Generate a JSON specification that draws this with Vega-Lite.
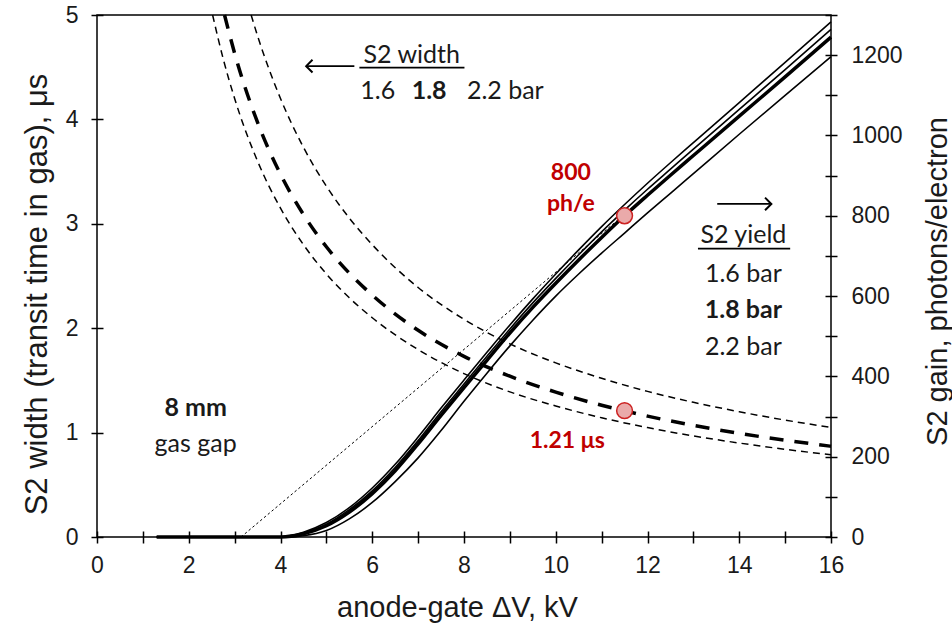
{
  "$schema": "https://vega.github.io/schema/vega-lite/v6.json",
  "width": 734,
  "height": 522,
  "autosize": {"type": "none"},
  "padding": {"left": 97, "top": 15, "right": 121, "bottom": 91},
  "background": "white",
  "config": {
    "view": {"stroke": "black", "strokeWidth": 1.5},
    "axis": {
      "grid": false,
      "domain": false,
      "offset": -6,
      "tickColor": "black",
      "tickWidth": 1.5,
      "tickSize": 12,
      "labelFont": "Liberation Sans",
      "labelFontSize": 23,
      "labelColor": "#1a1a1a",
      "titleFont": "Liberation Sans",
      "titleFontSize": 29,
      "titleFontWeight": "normal",
      "titleColor": "#1a1a1a"
    }
  },
  "datasets": {
    "width": [
      {"series": "1.6 bar", "x": 2.52, "y": 5.0},
      {"series": "1.6 bar", "x": 2.75, "y": 4.582},
      {"series": "1.6 bar", "x": 3, "y": 4.2},
      {"series": "1.6 bar", "x": 3.5, "y": 3.6},
      {"series": "1.6 bar", "x": 4, "y": 3.15},
      {"series": "1.6 bar", "x": 4.5, "y": 2.8},
      {"series": "1.6 bar", "x": 5, "y": 2.52},
      {"series": "1.6 bar", "x": 5.5, "y": 2.291},
      {"series": "1.6 bar", "x": 6, "y": 2.1},
      {"series": "1.6 bar", "x": 7, "y": 1.795},
      {"series": "1.6 bar", "x": 8, "y": 1.565},
      {"series": "1.6 bar", "x": 9, "y": 1.39},
      {"series": "1.6 bar", "x": 10, "y": 1.255},
      {"series": "1.6 bar", "x": 11, "y": 1.142},
      {"series": "1.6 bar", "x": 12, "y": 1.048},
      {"series": "1.6 bar", "x": 13, "y": 0.968},
      {"series": "1.6 bar", "x": 14, "y": 0.9},
      {"series": "1.6 bar", "x": 15, "y": 0.84},
      {"series": "1.6 bar", "x": 16, "y": 0.787},
      {"series": "1.8 bar", "x": 2.78, "y": 5.0},
      {"series": "1.8 bar", "x": 3, "y": 4.633},
      {"series": "1.8 bar", "x": 3.5, "y": 3.971},
      {"series": "1.8 bar", "x": 4, "y": 3.475},
      {"series": "1.8 bar", "x": 4.5, "y": 3.089},
      {"series": "1.8 bar", "x": 5, "y": 2.78},
      {"series": "1.8 bar", "x": 5.5, "y": 2.527},
      {"series": "1.8 bar", "x": 6, "y": 2.317},
      {"series": "1.8 bar", "x": 7, "y": 1.98},
      {"series": "1.8 bar", "x": 8, "y": 1.73},
      {"series": "1.8 bar", "x": 9, "y": 1.54},
      {"series": "1.8 bar", "x": 10, "y": 1.388},
      {"series": "1.8 bar", "x": 11, "y": 1.262},
      {"series": "1.8 bar", "x": 11.5, "y": 1.209},
      {"series": "1.8 bar", "x": 12, "y": 1.158},
      {"series": "1.8 bar", "x": 13, "y": 1.069},
      {"series": "1.8 bar", "x": 14, "y": 0.993},
      {"series": "1.8 bar", "x": 15, "y": 0.927},
      {"series": "1.8 bar", "x": 16, "y": 0.869},
      {"series": "2.2 bar", "x": 3.36, "y": 5.0},
      {"series": "2.2 bar", "x": 3.5, "y": 4.8},
      {"series": "2.2 bar", "x": 4, "y": 4.2},
      {"series": "2.2 bar", "x": 4.5, "y": 3.733},
      {"series": "2.2 bar", "x": 5, "y": 3.36},
      {"series": "2.2 bar", "x": 5.5, "y": 3.055},
      {"series": "2.2 bar", "x": 6, "y": 2.8},
      {"series": "2.2 bar", "x": 7, "y": 2.39},
      {"series": "2.2 bar", "x": 8, "y": 2.085},
      {"series": "2.2 bar", "x": 9, "y": 1.85},
      {"series": "2.2 bar", "x": 10, "y": 1.668},
      {"series": "2.2 bar", "x": 11, "y": 1.52},
      {"series": "2.2 bar", "x": 12, "y": 1.395},
      {"series": "2.2 bar", "x": 13, "y": 1.29},
      {"series": "2.2 bar", "x": 14, "y": 1.2},
      {"series": "2.2 bar", "x": 15, "y": 1.12},
      {"series": "2.2 bar", "x": 16, "y": 1.05}
    ],
    "gain": [
      {"series": "1.6 bar", "x": 1.3, "y": 0},
      {"series": "1.6 bar", "x": 3.95, "y": 0},
      {"series": "1.6 bar", "x": 4.5, "y": 12},
      {"series": "1.6 bar", "x": 5, "y": 36},
      {"series": "1.6 bar", "x": 5.5, "y": 73},
      {"series": "1.6 bar", "x": 6, "y": 122},
      {"series": "1.6 bar", "x": 6.5, "y": 181},
      {"series": "1.6 bar", "x": 7, "y": 249},
      {"series": "1.6 bar", "x": 7.5, "y": 321},
      {"series": "1.6 bar", "x": 8, "y": 391},
      {"series": "1.6 bar", "x": 8.5, "y": 460},
      {"series": "1.6 bar", "x": 9, "y": 528},
      {"series": "1.6 bar", "x": 9.5, "y": 593},
      {"series": "1.6 bar", "x": 10, "y": 655},
      {"series": "1.6 bar", "x": 10.5, "y": 715},
      {"series": "1.6 bar", "x": 11, "y": 773},
      {"series": "1.6 bar", "x": 11.5, "y": 828},
      {"series": "1.6 bar", "x": 12, "y": 881},
      {"series": "1.6 bar", "x": 12.5, "y": 932},
      {"series": "1.6 bar", "x": 13, "y": 982},
      {"series": "1.6 bar", "x": 14, "y": 1082},
      {"series": "1.6 bar", "x": 15, "y": 1182},
      {"series": "1.6 bar", "x": 16, "y": 1283},
      {"series": "1.8 bar b", "x": 1.3, "y": 0},
      {"series": "1.8 bar b", "x": 4, "y": 0},
      {"series": "1.8 bar b", "x": 4.5, "y": 10},
      {"series": "1.8 bar b", "x": 5, "y": 32},
      {"series": "1.8 bar b", "x": 5.5, "y": 68},
      {"series": "1.8 bar b", "x": 6, "y": 115},
      {"series": "1.8 bar b", "x": 6.5, "y": 173},
      {"series": "1.8 bar b", "x": 7, "y": 240},
      {"series": "1.8 bar b", "x": 7.5, "y": 312},
      {"series": "1.8 bar b", "x": 8, "y": 381},
      {"series": "1.8 bar b", "x": 8.5, "y": 450},
      {"series": "1.8 bar b", "x": 9, "y": 518},
      {"series": "1.8 bar b", "x": 9.5, "y": 583},
      {"series": "1.8 bar b", "x": 10, "y": 644},
      {"series": "1.8 bar b", "x": 10.5, "y": 703},
      {"series": "1.8 bar b", "x": 11, "y": 760},
      {"series": "1.8 bar b", "x": 11.5, "y": 814},
      {"series": "1.8 bar b", "x": 12, "y": 866},
      {"series": "1.8 bar b", "x": 12.5, "y": 916},
      {"series": "1.8 bar b", "x": 13, "y": 966},
      {"series": "1.8 bar b", "x": 14, "y": 1065},
      {"series": "1.8 bar b", "x": 15, "y": 1164},
      {"series": "1.8 bar b", "x": 16, "y": 1264},
      {"series": "1.8 bar", "x": 1.3, "y": 0},
      {"series": "1.8 bar", "x": 4, "y": 0},
      {"series": "1.8 bar", "x": 4.5, "y": 8},
      {"series": "1.8 bar", "x": 5, "y": 28},
      {"series": "1.8 bar", "x": 5.5, "y": 62},
      {"series": "1.8 bar", "x": 6, "y": 108},
      {"series": "1.8 bar", "x": 6.5, "y": 165},
      {"series": "1.8 bar", "x": 7, "y": 232},
      {"series": "1.8 bar", "x": 7.5, "y": 303},
      {"series": "1.8 bar", "x": 8, "y": 372},
      {"series": "1.8 bar", "x": 8.5, "y": 440},
      {"series": "1.8 bar", "x": 9, "y": 508},
      {"series": "1.8 bar", "x": 9.5, "y": 572},
      {"series": "1.8 bar", "x": 10, "y": 632},
      {"series": "1.8 bar", "x": 10.5, "y": 690},
      {"series": "1.8 bar", "x": 11, "y": 746},
      {"series": "1.8 bar", "x": 11.5, "y": 800},
      {"series": "1.8 bar", "x": 12, "y": 851},
      {"series": "1.8 bar", "x": 12.5, "y": 901},
      {"series": "1.8 bar", "x": 13, "y": 950},
      {"series": "1.8 bar", "x": 14, "y": 1048},
      {"series": "1.8 bar", "x": 15, "y": 1146},
      {"series": "1.8 bar", "x": 16, "y": 1245},
      {"series": "2.2 bar", "x": 1.3, "y": 0},
      {"series": "2.2 bar", "x": 4.2, "y": 0},
      {"series": "2.2 bar", "x": 4.5, "y": 3},
      {"series": "2.2 bar", "x": 5, "y": 16},
      {"series": "2.2 bar", "x": 5.5, "y": 45},
      {"series": "2.2 bar", "x": 6, "y": 86},
      {"series": "2.2 bar", "x": 6.5, "y": 138},
      {"series": "2.2 bar", "x": 7, "y": 197},
      {"series": "2.2 bar", "x": 7.5, "y": 265},
      {"series": "2.2 bar", "x": 8, "y": 338},
      {"series": "2.2 bar", "x": 8.5, "y": 408},
      {"series": "2.2 bar", "x": 9, "y": 476},
      {"series": "2.2 bar", "x": 9.5, "y": 540},
      {"series": "2.2 bar", "x": 10, "y": 600},
      {"series": "2.2 bar", "x": 10.5, "y": 655},
      {"series": "2.2 bar", "x": 11, "y": 707},
      {"series": "2.2 bar", "x": 11.5, "y": 757},
      {"series": "2.2 bar", "x": 12, "y": 807},
      {"series": "2.2 bar", "x": 12.5, "y": 856},
      {"series": "2.2 bar", "x": 13, "y": 905},
      {"series": "2.2 bar", "x": 14, "y": 1003},
      {"series": "2.2 bar", "x": 15, "y": 1100},
      {"series": "2.2 bar", "x": 16, "y": 1196}
    ],
    "tangent": [
      {"x": 3.14, "y": 0},
      {"x": 12.45, "y": 895}
    ],
    "width_marker": [{"x": 11.5, "y": 1.21}],
    "gain_marker": [{"x": 11.5, "y": 800}],
    "notes": [
      {"text": "S2 width", "x": 6.86, "y": 4.543, "role": "plain"},
      {"text": "1.6", "x": 6.12, "y": 4.193, "role": "plain"},
      {"text": "1.8", "x": 7.24, "y": 4.193, "role": "bold"},
      {"text": "2.2 bar", "x": 8.9, "y": 4.193, "role": "plain"},
      {"text": "S2 yield", "x": 14.09, "y": 2.816, "role": "plain"},
      {"text": "1.6 bar", "x": 14.09, "y": 2.445, "role": "plain"},
      {"text": "1.8 bar", "x": 14.09, "y": 2.095, "role": "bold"},
      {"text": "2.2 bar", "x": 14.09, "y": 1.743, "role": "plain"},
      {"text": "800", "x": 10.33, "y": 3.42, "role": "red"},
      {"text": "ph/e", "x": 10.33, "y": 3.125, "role": "red"},
      {"text": "1.21 μs", "x": 10.25, "y": 0.85, "role": "red"},
      {"text": "8 mm", "x": 2.15, "y": 1.159, "role": "bold"},
      {"text": "gas gap", "x": 2.15, "y": 0.817, "role": "plain"}
    ],
    "segments": [
      {"x": 5.72, "x2": 8.01, "y": 4.495},
      {"x": 13.1, "x2": 15.11, "y": 2.763},
      {"x": 4.56, "x2": 5.61, "y": 4.51},
      {"x": 13.52, "x2": 14.7, "y": 3.19}
    ],
    "arrowheads": [
      {"x": 4.56, "y": 4.51, "dir": "left"},
      {"x": 14.7, "y": 3.19, "dir": "right"}
    ]
  },
  "encoding": {
    "x": {
      "field": "x",
      "type": "quantitative",
      "scale": {"domain": [0, 16], "nice": false, "zero": false},
      "axis": {
        "title": "anode-gate ΔV, kV",
        "values": [0, 0.5, 1, 1.5, 2, 2.5, 3, 3.5, 4, 4.5, 5, 5.5, 6, 6.5, 7, 7.5, 8, 8.5, 9, 9.5, 10, 10.5, 11, 11.5, 12, 12.5, 13, 13.5, 14, 14.5, 15, 15.5, 16],
        "format": "d",
        "labelExpr": "datum.value % 2 === 0 ? datum.label : ''",
        "labelFlush": false,
        "labelOverlap": false,
        "labelPadding": 11,
        "titleX": 360,
        "titleY": 85,
        "titleBaseline": "alphabetic"
      }
    }
  },
  "layer": [
    {
      "encoding": {
        "y": {
          "field": "y",
          "type": "quantitative",
          "scale": {"domain": [0, 5], "nice": false},
          "axis": {
            "orient": "left",
            "title": "S2 width (transit time in gas), μs",
            "values": [0, 0.25, 0.5, 0.75, 1, 1.25, 1.5, 1.75, 2, 2.25, 2.5, 2.75, 3, 3.25, 3.5, 3.75, 4, 4.25, 4.5, 4.75, 5],
            "format": "d",
            "labelExpr": "datum.value % 1 === 0 ? datum.label : ''",
            "labelFlush": false,
            "labelOverlap": false,
            "labelPadding": 13,
            "titleFontSize": 31,
            "titleX": -66,
            "titleY": 279,
            "titleAngle": -90,
            "titleBaseline": "middle"
          }
        }
      },
      "layer": [
        {
          "data": {"name": "width"},
          "transform": [{"filter": "datum.series !== '1.8 bar'"}],
          "mark": {"type": "line", "color": "black", "strokeWidth": 1.5, "strokeDash": [7, 5], "interpolate": "monotone"},
          "encoding": {"detail": {"field": "series"}}
        },
        {
          "data": {"name": "width"},
          "transform": [{"filter": "datum.series === '1.8 bar'"}],
          "mark": {"type": "line", "color": "black", "strokeWidth": 3.5, "strokeDash": [14, 11], "interpolate": "monotone"},
          "encoding": {}
        },
        {
          "data": {"name": "segments"},
          "mark": {"type": "rule", "color": "black", "strokeWidth": 1.8},
          "encoding": {"x2": {"field": "x2"}}
        },
        {
          "data": {"name": "arrowheads"},
          "mark": {"type": "point", "filled": false, "color": "black", "strokeWidth": 2, "size": 160, "opacity": 1},
          "encoding": {
            "shape": {
              "field": "dir",
              "type": "nominal",
              "scale": {"domain": ["left", "right"], "range": ["M1,-1L0,0L1,1", "M-1,-1L0,0L-1,1"]},
              "legend": null
            }
          }
        },
        {
          "data": {"name": "notes"},
          "transform": [{"filter": "datum.role === 'plain'"}],
          "mark": {"type": "text", "font": "Lato", "fontSize": 25, "color": "#1a1a1a", "align": "center", "baseline": "alphabetic"},
          "encoding": {"text": {"field": "text"}}
        },
        {
          "data": {"name": "notes"},
          "transform": [{"filter": "datum.role === 'bold'"}],
          "mark": {"type": "text", "font": "Lato", "fontSize": 25, "fontWeight": "bold", "color": "#1a1a1a", "align": "center", "baseline": "alphabetic"},
          "encoding": {"text": {"field": "text"}}
        },
        {
          "data": {"name": "notes"},
          "transform": [{"filter": "datum.role === 'red'"}],
          "mark": {"type": "text", "font": "Lato", "fontSize": 23, "fontWeight": "bold", "color": "#c00000", "align": "center", "baseline": "alphabetic"},
          "encoding": {"text": {"field": "text"}}
        },
        {
          "data": {"name": "width_marker"},
          "mark": {"type": "point", "shape": "circle", "filled": true, "fill": "#eaaaaa", "stroke": "#cc2222", "strokeWidth": 1.5, "size": 250, "opacity": 1},
          "encoding": {}
        }
      ]
    },
    {
      "encoding": {
        "y": {
          "field": "y",
          "type": "quantitative",
          "scale": {"domain": [0, 1300], "nice": false},
          "axis": {
            "orient": "right",
            "title": "S2 gain, photons/electron",
            "values": [0, 100, 200, 300, 400, 500, 600, 700, 800, 900, 1000, 1100, 1200, 1300],
            "format": "d",
            "labelExpr": "datum.value % 200 === 0 ? datum.label : ''",
            "labelFlush": false,
            "labelOverlap": false,
            "labelPadding": 14,
            "titleX": 112,
            "titleY": 266,
            "titleAngle": -90,
            "titleBaseline": "middle"
          }
        }
      },
      "layer": [
        {
          "data": {"name": "tangent"},
          "mark": {"type": "line", "color": "black", "strokeWidth": 1, "strokeDash": [2.5, 2.5]},
          "encoding": {}
        },
        {
          "data": {"name": "gain"},
          "transform": [{"filter": "datum.series !== '1.8 bar'"}],
          "mark": {"type": "line", "color": "black", "strokeWidth": 1.6, "interpolate": "monotone"},
          "encoding": {"detail": {"field": "series"}}
        },
        {
          "data": {"name": "gain"},
          "transform": [{"filter": "datum.series === '1.8 bar'"}],
          "mark": {"type": "line", "color": "black", "strokeWidth": 3.5, "interpolate": "monotone"},
          "encoding": {}
        },
        {
          "data": {"name": "gain_marker"},
          "mark": {"type": "point", "shape": "circle", "filled": true, "fill": "#eaaaaa", "stroke": "#cc2222", "strokeWidth": 1.5, "size": 250, "opacity": 1},
          "encoding": {}
        }
      ]
    }
  ],
  "resolve": {"scale": {"y": "independent"}}
}
